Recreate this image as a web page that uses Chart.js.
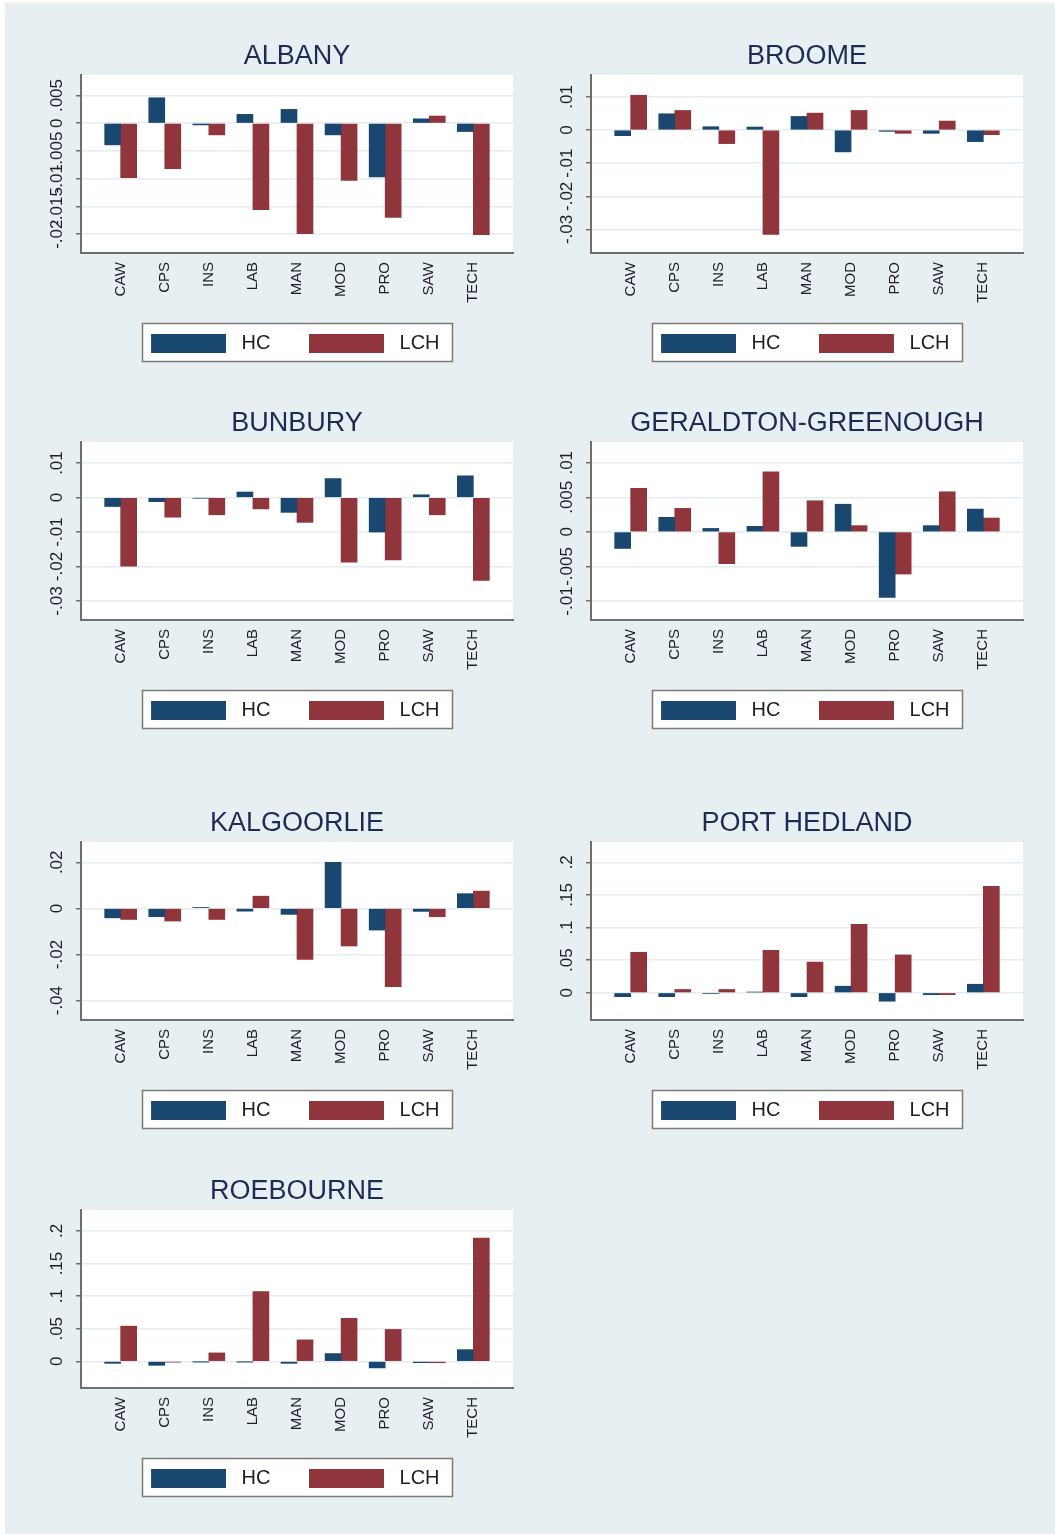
<!DOCTYPE html>
<html>
<head>
<meta charset="utf-8">
<script src="https://cdn.jsdelivr.net/npm/chart.js@4.4.1/dist/chart.umd.min.js"></script>
<style>
  html, body { margin: 0; padding: 0; background: #ffffff; }
  #bg { position: absolute; left: 5px; top: 3px; width: 1050px; height: 1531px; background: #e8eff2; }
  canvas { position: absolute; }
</style>
</head>
<body>
<div id="bg"></div>
<canvas id="c1" width="520" height="333" style="left:20px;top:30px"></canvas>
<canvas id="c2" width="520" height="333" style="left:530px;top:30px"></canvas>
<canvas id="c3" width="520" height="333" style="left:20px;top:397px"></canvas>
<canvas id="c4" width="520" height="333" style="left:530px;top:397px"></canvas>
<canvas id="c5" width="520" height="333" style="left:20px;top:797px"></canvas>
<canvas id="c6" width="520" height="333" style="left:530px;top:797px"></canvas>
<canvas id="c7" width="520" height="333" style="left:20px;top:1165px"></canvas>
<script>
// ---------------- DATA ----------------
const categories = ['CAW', 'CPS', 'INS', 'LAB', 'MAN', 'MOD', 'PRO', 'SAW', 'TECH'];
const seriesNames = ['HC', 'LCH'];

const albanyHC  = [-0.0039, 0.0046, -0.0003, 0.0016, 0.0025, -0.0021, -0.0097, 0.0008, -0.0015];
const albanyLCH = [-0.0098, -0.0082, -0.0021, -0.0156, -0.0199, -0.0103, -0.0170, 0.0013, -0.0201];
const albanyTicks = [-0.02, -0.015, -0.01, -0.005, 0, 0.005];
const albanyRange = [-0.0234, 0.0087];

const broomeHC  = [-0.0017, 0.0049, 0.0010, 0.0009, 0.0041, -0.0066, -0.0004, -0.0010, -0.0035];
const broomeLCH = [0.0105, 0.0059, -0.0041, -0.0315, 0.0051, 0.0059, -0.0010, 0.0027, -0.0014];
const broomeTicks = [-0.03, -0.02, -0.01, 0, 0.01];
const broomeRange = [-0.0371, 0.0166];

const bunburyHC  = [-0.0026, -0.0012, -0.0002, 0.0016, -0.0043, 0.0055, -0.0100, 0.0008, 0.0063];
const bunburyLCH = [-0.0199, -0.0057, -0.0050, -0.0033, -0.0072, -0.0187, -0.0181, -0.0050, -0.0240];
const bunburyTicks = [-0.03, -0.02, -0.01, 0, 0.01];
const bunburyRange = [-0.0355, 0.0161];

const geraldtonHC  = [-0.0024, 0.0021, 0.0005, 0.0008, -0.0021, 0.0040, -0.0095, 0.0009, 0.0033];
const geraldtonLCH = [0.0063, 0.0034, -0.0046, 0.0087, 0.0045, 0.0009, -0.0061, 0.0058, 0.0020];
const geraldtonTicks = [-0.01, -0.005, 0, 0.005, 0.01];
const geraldtonRange = [-0.01275, 0.0130];

const kalgoorlieHC  = [-0.0041, -0.0036, 0.0004, -0.0012, -0.0026, 0.0200, -0.0094, -0.0013, 0.0064];
const kalgoorlieLCH = [-0.0048, -0.0055, -0.0048, 0.0053, -0.0221, -0.0163, -0.0339, -0.0036, 0.0075];
const kalgoorlieTicks = [-0.04, -0.02, 0, 0.02];
const kalgoorlieRange = [-0.0484, 0.0288];

const portHedlandHC  = [-0.006, -0.006, -0.001, 0.001, -0.006, 0.010, -0.013, -0.003, 0.013];
const portHedlandLCH = [0.062, 0.005, 0.005, 0.065, 0.047, 0.105, 0.058, -0.003, 0.163];
const portHedlandTicks = [0, 0.05, 0.1, 0.15, 0.2];
const portHedlandRange = [-0.0418, 0.2311];

const roebourneHC  = [-0.003, -0.006, -0.0005, -0.0005, -0.003, 0.012, -0.010, -0.002, 0.018];
const roebourneLCH = [0.054, -0.001, 0.013, 0.107, 0.033, 0.066, 0.049, -0.002, 0.189];
const roebourneTicks = [0, 0.05, 0.1, 0.15, 0.2];
const roebourneRange = [-0.0408, 0.2321];

const panels = [
  ['c1', 'ALBANY', albanyHC, albanyLCH, albanyTicks, albanyRange],
  ['c2', 'BROOME', broomeHC, broomeLCH, broomeTicks, broomeRange],
  ['c3', 'BUNBURY', bunburyHC, bunburyLCH, bunburyTicks, bunburyRange],
  ['c4', 'GERALDTON-GREENOUGH', geraldtonHC, geraldtonLCH, geraldtonTicks, geraldtonRange],
  ['c5', 'KALGOORLIE', kalgoorlieHC, kalgoorlieLCH, kalgoorlieTicks, kalgoorlieRange],
  ['c6', 'PORT HEDLAND', portHedlandHC, portHedlandLCH, portHedlandTicks, portHedlandRange],
  ['c7', 'ROEBOURNE', roebourneHC, roebourneLCH, roebourneTicks, roebourneRange]
];

// ---------------- STYLE ----------------
const FONT = '"Liberation Sans", Arial, Helvetica, sans-serif';
Chart.defaults.font.family = FONT;
const HC_COLOR = '#1a476f';
const LCH_COLOR = '#90353b';
const AXIS_COLOR = '#6e6e6e';
const GRID_COLOR = '#e3ecef';
const TEXT_COLOR = '#1e1e2a';
const Y_FONT_SIZE = 17;
const LEGEND_FONT = 20;

function fmt(v) {
  if (Math.abs(v) < 1e-12) return '0';
  let s = Math.abs(v).toFixed(3).replace(/0+$/, '').replace(/\.$/, '');
  s = s.replace(/^0\./, '.');
  return (v < 0 ? '-' : '') + s;
}

const measureCtx = document.createElement('canvas').getContext('2d');
measureCtx.font = Y_FONT_SIZE + 'px ' + FONT;
function widest(ticks) {
  return Math.max(...ticks.map(t => measureCtx.measureText(fmt(t)).width));
}

// legend key swatch: 75x19 colour block, 5px transparent left margin
function swatch(color) {
  const c = document.createElement('canvas');
  c.width = 80; c.height = 19;
  const g = c.getContext('2d');
  g.fillStyle = color;
  g.fillRect(5, 0, 75, 19);
  return c;
}

const framePlugin = {
  id: 'frames',
  beforeDraw(chart) {
    const {ctx, chartArea: a} = chart;
    ctx.save();
    ctx.fillStyle = '#ffffff';
    ctx.fillRect(a.left, a.top, a.right - a.left, a.bottom - a.top);
    const hb = chart.legend && chart.legend.legendHitBoxes;
    if (hb && hb.length) {
      const first = hb[0], last = hb[hb.length - 1];
      const x0 = Math.round(first.left + 1.5) + 0.5, x1 = Math.round(last.left + last.width + 12) + 0.5;
      const y0 = Math.round(first.top - 10) + 0.5, y1 = Math.round(first.top + first.height + 8) + 0.5;
      ctx.fillRect(x0, y0, x1 - x0, y1 - y0);
      ctx.strokeStyle = '#7a7a7a';
      ctx.lineWidth = 1.5;
      ctx.strokeRect(x0, y0, x1 - x0, y1 - y0);
    }
    ctx.restore();
  }
};

panels.forEach(([id, title, hc, lch, ticks, range]) => {
  const yPad = -23.5 - widest(ticks) / 2;
  new Chart(document.getElementById(id), {
    type: 'bar',
    data: {
      datasets: [
        { label: seriesNames[0], data: hc.map((v, i) => ({x: i, y: v})), backgroundColor: HC_COLOR, borderWidth: 0, pointStyle: swatch(HC_COLOR) },
        { label: seriesNames[1], data: lch.map((v, i) => ({x: i, y: v})), backgroundColor: LCH_COLOR, borderWidth: 0, pointStyle: swatch(LCH_COLOR) }
      ]
    },
    options: {
      responsive: false,
      animation: false,
      barThickness: 16,
      layout: { padding: { left: 47, right: 27, top: 0, bottom: 0 } },
      plugins: {
        tooltip: { enabled: false },
        title: {
          display: true, text: title, fullSize: false, color: '#1f2a55',
          font: { size: 27, weight: 'normal', family: FONT },
          padding: { top: 10, bottom: 2.6 }
        },
        legend: {
          display: true, position: 'bottom', fullSize: true,
          labels: {
            usePointStyle: true, pointStyleWidth: 91.1, boxHeight: 19,
            padding: 28, color: TEXT_COLOR,
            font: { size: LEGEND_FONT, family: FONT }
          }
        }
      },
      scales: {
        x: {
          type: 'linear', min: -0.9, max: 8.9, offset: false,
          afterBuildTicks: s => { s.ticks = categories.map((c, i) => ({value: i})); },
          afterFit: s => { s.height = 52; },
          ticks: {
            autoSkip: false, minRotation: 90, maxRotation: 90, padding: 9,
            color: TEXT_COLOR, font: { size: 15, family: FONT },
            callback: v => categories[v]
          },
          grid: { display: false, drawTicks: false },
          border: { display: true, color: AXIS_COLOR, width: 2 }
        },
        y: {
          min: range[0], max: range[1],
          afterBuildTicks: s => { s.ticks = ticks.map(v => ({value: v})); },
          afterFit: s => { s.width = 14; },
          ticks: {
            autoSkip: false, mirror: true, minRotation: 90, maxRotation: 90, crossAlign: 'center',
            padding: yPad, color: TEXT_COLOR, font: { size: Y_FONT_SIZE, family: FONT },
            callback: v => fmt(v)
          },
          grid: { color: GRID_COLOR, lineWidth: 1.5, drawTicks: true, tickLength: 5, tickColor: AXIS_COLOR, tickWidth: 1.5 },
          border: { display: true, color: AXIS_COLOR, width: 2 }
        }
      }
    },
    plugins: [framePlugin]
  });
});
</script>
</body>
</html>
